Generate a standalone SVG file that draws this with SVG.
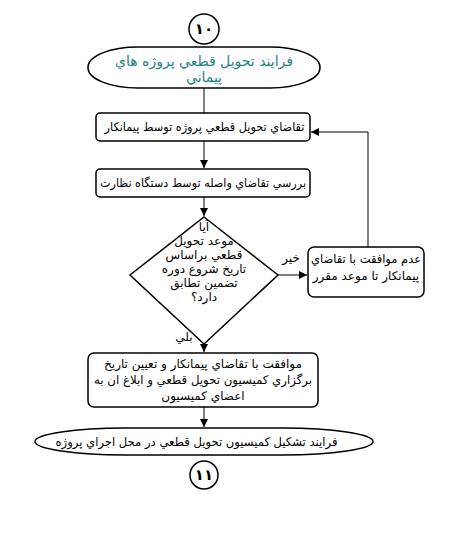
<svg xmlns="http://www.w3.org/2000/svg" width="451" height="542" viewBox="0 0 451 542">
<style>
.sh{fill:#fff;stroke:#000;stroke-width:1.5}
.ln{fill:none;stroke:#000;stroke-width:1}
.t{font-family:"DejaVu Sans",sans-serif;font-size:12px;fill:#000;text-anchor:middle;direction:rtl}
.tt{font-family:"DejaVu Sans",sans-serif;font-size:14px;fill:#1b8585;text-anchor:middle;direction:rtl}
.n{font-family:"DejaVu Sans",sans-serif;font-size:15px;font-weight:bold;fill:#000;text-anchor:middle}
</style>
<defs>
<marker id="ah" viewBox="0 0 10 10" refX="10" refY="5" markerWidth="8" markerHeight="8" markerUnits="userSpaceOnUse" orient="auto">
<path d="M0,0 L10,5 L0,10 z" fill="#000"/>
</marker>
</defs>
<rect width="451" height="542" fill="#fff"/>
<g id="connectors">
<line class="ln" x1="204" y1="88" x2="204" y2="113"/>
<line class="ln" x1="204" y1="141" x2="204" y2="168" marker-end="url(#ah)"/>
<line class="ln" x1="204" y1="197" x2="204" y2="216" marker-end="url(#ah)"/>
<line class="ln" x1="278" y1="275" x2="307" y2="275" marker-end="url(#ah)"/>
<polyline class="ln" points="368,247 368,132 311,132" marker-end="url(#ah)"/>
<line class="ln" x1="204" y1="344" x2="204" y2="352" marker-end="url(#ah)"/>
<line class="ln" x1="204" y1="407" x2="204" y2="427" marker-end="url(#ah)"/>
<text class="t" x="291" y="262">خير</text>
<text class="t" x="184" y="341">بلي</text>
</g>
<g id="start-circle">
<circle class="sh" cx="204" cy="29" r="15"/>
<text class="n" x="204" y="34">۱۰</text>
</g>
<g id="start">
<rect class="sh" x="88" y="47" width="232" height="41" rx="50" ry="20"/>
<text class="tt" x="204" y="66">فرايند تحويل قطعي پروژه هاي</text>
<text class="tt" x="204" y="82">پيماني</text>
</g>
<g id="request">
<rect class="sh" x="96" y="113" width="214" height="28" rx="4"/>
<text class="t" x="204.5" y="131" textLength="200" lengthAdjust="spacingAndGlyphs">تقاضاي تحويل قطعي پروژه توسط پيمانكار</text>
</g>
<g id="review">
<rect class="sh" x="96" y="169" width="214" height="28" rx="4"/>
<text class="t" x="203" y="187" textLength="206" lengthAdjust="spacingAndGlyphs">بررسي تقاضاي واصله توسط دستگاه نظارت</text>
</g>
<g id="decision">
<polygon class="sh" points="204,217 278,275 204,344 130,275"/>
<text class="t" x="204" y="231">آيا</text>
<text class="t" x="204" y="245">موعد تحويل</text>
<text class="t" x="204" y="259">قطعي براساس</text>
<text class="t" x="204" y="273">تاريخ شروع دوره</text>
<text class="t" x="204" y="287">تضمين تطابق</text>
<text class="t" x="204" y="301">دارد؟</text>
</g>
<g id="reject">
<rect class="sh" x="308" y="247" width="116" height="50" rx="6"/>
<text class="t" x="366" y="263" textLength="110" lengthAdjust="spacingAndGlyphs">عدم موافقت با تقاضاي</text>
<text class="t" x="366" y="280">پيمانكار تا موعد مقرر</text>
</g>
<g id="approve">
<rect class="sh" x="88" y="353" width="230" height="54" rx="6"/>
<text class="t" x="203" y="368">موافقت با تقاضاي پيمانكار و تعيين تاريخ</text>
<text class="t" x="203" y="384" textLength="218" lengthAdjust="spacingAndGlyphs">برگزاري كميسيون تحويل قطعي و ابلاغ ان به</text>
<text class="t" x="203" y="400">اعضاي كميسيون</text>
</g>
<g id="end">
<rect class="sh" x="35" y="428" width="338" height="27" rx="90" ry="13.5"/>
<text class="t" x="196.5" y="446" textLength="282" lengthAdjust="spacingAndGlyphs">فرايند تشكيل كميسيون تحويل قطعي در محل اجراي پروژه</text>
</g>
<g id="end-circle">
<circle class="sh" cx="204" cy="475" r="14"/>
<text class="n" x="204" y="480">۱۱</text>
</g>
</svg>
